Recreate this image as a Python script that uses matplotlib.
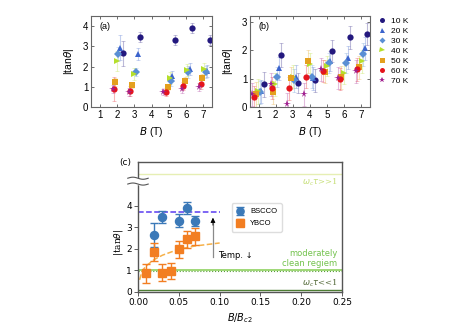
import numpy as np
import matplotlib
matplotlib.use("Agg")
import matplotlib.pyplot as plt

# ---- panels (a) and (b): |tan theta| vs B for several temperatures ----
temps = ['10 K', '20 K', '30 K', '40 K', '50 K', '60 K', '70 K']
t_colors = ['#23187e', '#3b63cc', '#5a8fd4', '#b5df2a', '#e4a01e', '#e5141c', '#a01f8f']
t_markers = ['o', '^', 'D', '>', 's', 'o', '*']

a_B = [[2.34, 3.32, 5.33, 6.36, 7.37],
       [2.20, 3.23, 5.20, 6.22, 7.19],
       [2.07, 3.11, 5.10, 6.13, 7.13],
       [2.00, 2.97, 5.06, 6.07, 7.04],
       [1.91, 2.88, 4.95, 5.93, 6.94],
       [1.81, 2.78, 4.81, 5.84, 6.84],
       [1.75, 2.68, 4.68, 5.74, 6.75]]
a_tan = [[2.65, 3.48, 3.33, 3.90, 3.32],
         [2.94, 2.62, 1.54, 1.86, 1.79],
         [2.62, 1.71, 1.28, 1.74, 1.74],
         [2.29, 1.61, 1.44, 1.83, 1.86],
         [1.24, 1.08, 1.00, 1.29, 1.44],
         [0.87, 0.78, 0.75, 1.03, 1.16],
         [0.87, 0.72, 0.72, 0.87, 0.99]]
a_err = [[0.60, 0.25, 0.25, 0.25, 0.25],
         [0.60, 0.30, 0.25, 0.30, 0.30],
         [0.35, 0.20, 0.25, 0.30, 0.30],
         [0.50, 0.30, 0.30, 0.30, 0.30],
         [0.20, 0.15, 0.15, 0.20, 0.20],
         [0.60, 0.25, 0.20, 0.20, 0.25],
         [0.20, 0.20, 0.15, 0.20, 0.20]]

b_B = [[1.29, 2.31, 3.31, 4.28, 5.28, 6.31, 7.31],
       [1.16, 2.20, 3.18, 4.17, 5.19, 6.21, 7.22],
       [1.06, 2.10, 3.08, 4.09, 5.09, 6.08, 7.08],
       [0.94, 1.97, 2.99, 3.99, 4.99, 5.98, 7.02],
       [0.85, 1.87, 2.89, 3.89, 4.86, 5.83, 6.88],
       [0.75, 1.81, 2.79, 3.76, 4.76, 5.73, 6.75],
       [0.62, 1.72, 2.68, 3.66, 4.67, 5.65, 6.69]]
b_tan = [[0.79, 1.83, 0.85, 0.94, 1.97, 2.45, 2.57],
         [0.55, 1.36, 1.06, 1.01, 1.61, 1.74, 2.06],
         [0.51, 1.06, 0.94, 1.06, 1.55, 1.55, 1.85],
         [0.55, 0.80, 1.06, 1.50, 1.44, 1.20, 1.61],
         [0.44, 0.51, 1.02, 1.61, 1.24, 1.04, 1.39],
         [0.35, 0.67, 0.65, 1.06, 1.27, 0.98, 1.32],
         [0.44, 0.80, 0.10, 0.44, 1.32, 1.02, 1.26]]
b_err = [[0.45, 0.42, 0.35, 0.40, 0.40, 0.40, 0.40],
         [0.40, 0.40, 0.40, 0.40, 0.35, 0.40, 0.40],
         [0.40, 0.35, 0.40, 0.40, 0.35, 0.35, 0.40],
         [0.45, 0.40, 0.40, 0.40, 0.35, 0.40, 0.40],
         [0.45, 0.40, 0.40, 0.40, 0.40, 0.40, 0.40],
         [0.40, 0.40, 0.40, 0.40, 0.40, 0.40, 0.40],
         [0.40, 0.40, 0.40, 0.40, 0.40, 0.40, 0.40]]

# ---- panel (c): |tan theta| vs B/Bc2 ----
bs_x = [0.02, 0.03, 0.05, 0.06, 0.07]
bs_y = [2.65, 3.48, 3.30, 3.90, 3.30]
bs_e = [0.55, 0.30, 0.30, 0.30, 0.25]
yb_x = [0.01, 0.02, 0.03, 0.04, 0.05, 0.06, 0.07]
yb_y = [0.85, 1.85, 0.88, 0.97, 1.97, 2.45, 2.58]
yb_e = [0.45, 0.40, 0.40, 0.38, 0.38, 0.40, 0.40]
fit_x = [0.002, 0.005, 0.01, 0.02, 0.03, 0.05, 0.07, 0.10]
fit_y = [0.55, 0.95, 1.20, 1.50, 1.70, 1.98, 2.13, 2.27]
bs_level = 3.7
clean_level = 5.5
moderate_level = 1.02
moderate_dot = 0.95
dirty_level = 0.07

plt.rcParams['font.family'] = ['Liberation Sans', 'DejaVu Sans']

fig = plt.figure(figsize=(4.63, 3.28), dpi=100)
ax_a = fig.add_axes([0.1965, 0.674, 0.2615, 0.277])
ax_b = fig.add_axes([0.540, 0.674, 0.259, 0.277])
ax_c = fig.add_axes([0.298, 0.111, 0.441, 0.395])


def temp_panel(ax, Bs, tans, errs, label, ylim, yticks):
    for i in range(len(temps)):
        ax.errorbar(Bs[i], tans[i], yerr=errs[i], fmt='none', ecolor=t_colors[i],
                    alpha=0.3, elinewidth=0.8, capsize=1.5, capthick=0.6, zorder=1)
        ms = 5.5 if t_markers[i] == '*' else 4.5
        if t_markers[i] == 'D':
            ms = 3.8
        ax.plot(Bs[i], tans[i], t_markers[i], color=t_colors[i], ms=ms, mew=0,
                label=temps[i], zorder=2)
    ax.set_xlim(0.5, 7.5)
    ax.set_ylim(*ylim)
    ax.set_xticks(range(1, 8))
    ax.set_yticks(yticks)
    ax.tick_params(direction='in', top=True, right=True, labelsize=7, length=2.5,
                   width=0.6, pad=2, color='#555555')
    for s in ax.spines.values():
        s.set_color('#666666')
        s.set_linewidth(0.8)
    ax.set_xlabel(r'$B$ (T)', fontsize=7.5, labelpad=4)
    ax.set_ylabel(r'|tan$\theta$|', fontsize=7.5, labelpad=5)
    ax.text(0.07, 0.86, label, transform=ax.transAxes, fontsize=6.5)


temp_panel(ax_a, a_B, a_tan, a_err, '(a)', (0, 4.5), [0, 1, 2, 3, 4])
temp_panel(ax_b, b_B, b_tan, b_err, '(b)', (0, 3.2), [0, 1, 2, 3])

h, l = ax_b.get_legend_handles_labels()
fig.legend(h, l, loc='upper left', bbox_to_anchor=(0.8, 0.97), frameon=False,
           fontsize=6, handlelength=1.0, handletextpad=0.6, labelspacing=0.25,
           markerscale=0.8)

# panel (c)
ax = ax_c
ax.axhline(clean_level, color='#e6efb4', lw=1.0, zorder=0)
ax.axhline(moderate_level, color='#8fd260', lw=1.2, zorder=0)
ax.axhline(moderate_dot, color='#5a9e3a', lw=0.8, ls=':', zorder=0)
ax.axhline(dirty_level, color='#4d7d33', lw=1.0, zorder=0)
ax.plot([0, 0.10], [bs_level, bs_level], '--', color='#5a3cf0', lw=1.1, zorder=1)
ax.plot(fit_x, fit_y, '--', color='#f6b14a', lw=1.1, zorder=1)
ax.errorbar(bs_x, bs_y, yerr=bs_e, fmt='o', color='#3b79b8', ms=5.8, capsize=3,
            elinewidth=1.0, label='BSCCO', zorder=3)
ax.errorbar(yb_x, yb_y, yerr=yb_e, fmt='s', color='#f27e22', ms=5.8, capsize=3,
            elinewidth=1.0, label='YBCO', zorder=3)
ax.plot([0.0918, 0.0918], [1.62, 3.2], color='#8a8a8a', lw=0.9)
ax.annotate('', xy=(0.0918, 3.45), xytext=(0.0918, 3.1),
            arrowprops=dict(arrowstyle='-|>', color='black', lw=0.6,
                            mutation_scale=7, shrinkA=0, shrinkB=0))
ax.text(0.0975, 1.67, 'Temp. ↓', fontsize=6, va='center', family='DejaVu Sans')
ax.text(0.244, 5.1, r'$\omega_c\tau$>>1', color='#c6df78', fontsize=6, ha='right',
        va='center', family='DejaVu Serif')
ax.text(0.244, 1.55, 'moderately\nclean regiem', color='#72c24c', fontsize=6,
        ha='right', va='center', family='DejaVu Sans', linespacing=1.1)
ax.text(0.244, 0.4, r'$\omega_c\tau$<<1', color='#556b3a', fontsize=6, ha='right',
        va='center', family='DejaVu Serif')

ax.set_xlim(0, 0.25)
ax.set_ylim(0, 6.05)
ax.set_yticks([0, 1, 2, 3, 4])
ax.set_xticks([0, 0.05, 0.10, 0.15, 0.20, 0.25])
ax.set_xticklabels(['0.00', '0.05', '0.10', '0.15', '0.20', '0.25'])
ax.tick_params(labelsize=6.5, length=3, width=0.6, pad=1.5, color='#444444')
for lab in ax.get_xticklabels() + ax.get_yticklabels():
    lab.set_family('DejaVu Sans')
for s in ax.spines.values():
    s.set_color('#555555')
    s.set_linewidth(1.0)
ax.set_xlabel(r'$B/B_{c2}$', fontsize=7, labelpad=3, family='DejaVu Serif')
ax.set_ylabel(r'|tan$\theta$|', fontsize=6.5, family='DejaVu Serif')
ax.yaxis.set_label_coords(-0.065, 0.38)
ax.text(-0.06, 1.0, '(c)', transform=ax.transAxes, fontsize=6.5, ha='center',
        va='center', family='DejaVu Sans')
ax.legend(loc='upper left', bbox_to_anchor=(0.44, 0.71), fontsize=5.5,
          handlelength=1.0, borderpad=0.6, labelspacing=0.6, markerscale=0.9,
          frameon=True, framealpha=1, edgecolor='#dddddd')

# axis break symbol on the left spine
wx = np.linspace(-0.05, 0.05, 60)
wave = 0.008 * np.sin((wx + 0.05) / 0.1 * 2 * np.pi)
y1, y2 = 0.83, 0.875
ax.fill_between(wx, y1 + wave, y2 + wave, color='white', transform=ax.transAxes,
                clip_on=False, zorder=5)
ax.plot(wx, y1 + wave, color='#555555', lw=0.8, transform=ax.transAxes,
        clip_on=False, zorder=6)
ax.plot(wx, y2 + wave, color='#555555', lw=0.8, transform=ax.transAxes,
        clip_on=False, zorder=6)

fig.savefig('out.png', dpi=100)
